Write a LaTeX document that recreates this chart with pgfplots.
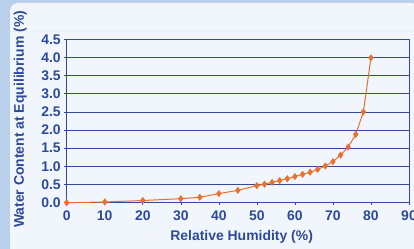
\documentclass[border=0pt]{standalone}
\usepackage{pgfplots}
\pgfplotsset{compat=1.18}
\usepackage{fontspec}
\setmainfont{Liberation Sans}
\definecolor{strip}{HTML}{BACFEA}
\definecolor{panel}{HTML}{F0F6FC}
\definecolor{txt}{HTML}{2D4A98}
\definecolor{gridc}{HTML}{34489E}
\definecolor{oran}{HTML}{E8722C}
\begin{document}
\begin{tikzpicture}[x=1bp,y=1bp]
\useasboundingbox (0,0) rectangle (414,249);
\fill[strip] (0,0) rectangle (414,249);
\fill[panel, rounded corners=8bp] (10,0) rectangle (420,246);
\fill[panel] (10,0) rectangle (420,200);
\draw[white!70!strip, line width=0.6bp] (26,218) -- (414,218);
\begin{axis}[
  at={(66.7bp,46.3bp)}, anchor=south west,
  width=342.3bp, height=163.4bp, scale only axis,
  xmin=0, xmax=90, ymin=0, ymax=4.5,
  xtick={0,10,...,90}, ytick={0,0.5,...,4.5},
  yticklabel style={/pgf/number format/.cd, fixed, fixed zerofill, precision=1},
  xticklabel style={yshift=-2bp},
  /pgf/number format/assume math mode=true,
  ymajorgrids, grid style={gridc, line width=0.8bp},
  axis line style={gridc, line width=0.8bp},
  tick style={gridc, line width=0.6bp},
  tick align=outside, major tick length=2.5bp,
  xtick pos=bottom, ytick pos=left,
  ticklabel style={font=\fontsize{14}{16}\selectfont\bfseries, text=txt},
  xlabel={Relative Humidity (\%)},
  ylabel={Water Content at Equilibrium (\%)},
  label style={font=\fontsize{14}{16}\selectfont\bfseries, text=txt},
  xlabel style={at={(axis description cs:0.511,-0.208)}, anchor=center},
  ylabel style={at={(axis description cs:-0.136,0.51)}, anchor=center},
  axis background/.style={fill=panel},
  clip=false,
]
\addplot[oran, line width=1bp, mark=diamond*, mark size=2.8bp, mark options={fill=oran, draw=oran}]
coordinates {
(0,0) (10,0.02) (20,0.06) (30,0.11) (35,0.15) (40,0.25) (45,0.34) (50,0.47)
(52,0.51) (54,0.56) (56,0.61) (58,0.66) (60,0.72) (62,0.78) (64,0.84)
(66,0.92) (68,1.01) (70,1.13) (72,1.31) (74,1.53) (76,1.88) (78,2.50) (80,3.99)
};
\end{axis}
\end{tikzpicture}
\end{document}
